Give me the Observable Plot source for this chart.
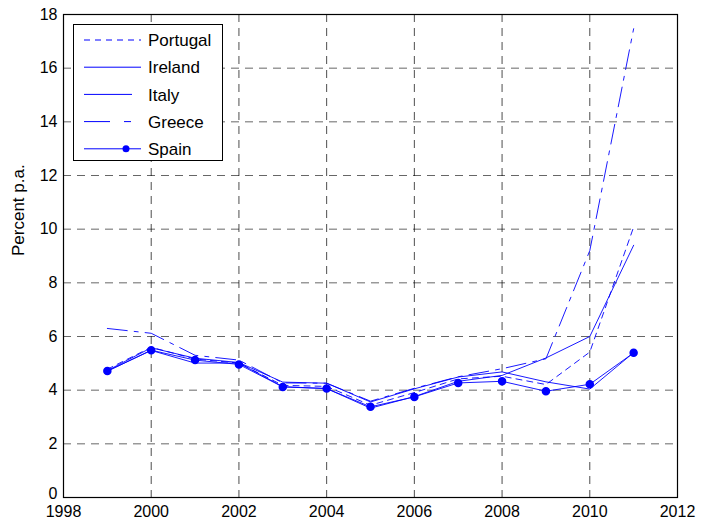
<!DOCTYPE html>
<html>
<head>
<meta charset="utf-8">
<script src="https://cdn.jsdelivr.net/npm/d3@7"></script>
<script src="https://cdn.jsdelivr.net/npm/@observablehq/plot@0.6"></script>
<style>
  body { margin: 0; background: white; }
  #wrap { position: relative; width: 702px; height: 523px; }
  #legend {
    position: absolute; left: 73px; top: 24px; width: 150px; height: 137px;
    border: 1px solid black; background: white; box-sizing: border-box;
    font-family: Arial, "Liberation Sans", sans-serif; font-size: 17px;
  }
</style>
</head>
<body>
<div id="wrap"></div>
<script>
const years = [1999, 2000, 2001, 2002, 2003, 2004, 2005, 2006, 2007, 2008, 2009, 2010, 2011];
const portugal = [4.78, 5.60, 5.16, 5.01, 4.18, 4.14, 3.44, 3.91, 4.42, 4.52, 4.21, 5.42, 10.08];
const ireland  = [4.71, 5.48, 5.01, 5.01, 4.13, 4.06, 3.33, 3.76, 4.33, 4.55, 5.20, 6.00, 9.40];
const italy    = [4.73, 5.58, 5.19, 5.03, 4.30, 4.26, 3.56, 4.05, 4.49, 4.68, 4.31, 4.04, 5.40];
const greece   = [6.30, 6.12, 5.30, 5.12, 4.27, 4.26, 3.59, 4.07, 4.50, 4.80, 5.17, 9.20, 17.47];
const spain    = [4.71, 5.49, 5.12, 4.96, 4.12, 4.06, 3.38, 3.75, 4.27, 4.33, 3.96, 4.22, 5.39];
const seriesNames = ["Portugal", "Ireland", "Italy", "Greece", "Spain"];
const xTicks = [1998, 2000, 2002, 2004, 2006, 2008, 2010, 2012];
const yTicks = [0, 2, 4, 6, 8, 10, 12, 14, 16, 18];

const seriesValues = [portugal, ireland, italy, greece, spain];
const dashes = {Portugal: "6,5", Ireland: null, Italy: null, Greece: "20,7,4,7", Spain: null};
const rows = [];
seriesNames.forEach((name, i) => years.forEach((yr, j) => rows.push({series: name, year: yr, value: seriesValues[i][j]})));
const blue = "#0000ff";

const lineMarks = seriesNames.map(name => Plot.line(rows.filter(d => d.series === name), {
  x: "year", y: "value", stroke: blue, strokeWidth: 0.9,
  strokeDasharray: dashes[name] || undefined
}));

const chart = Plot.plot({
  width: 702, height: 523,
  marginLeft: 63, marginRight: 25, marginTop: 14, marginBottom: 26,
  style: {fontFamily: "Arial, 'Liberation Sans', sans-serif", fontSize: "16px", background: "white", color: "black"},
  x: {domain: [1998, 2012], ticks: xTicks},
  y: {domain: [0, 18], ticks: yTicks},
  marks: [
    Plot.gridX(xTicks.slice(1, -1), {stroke: "#000", strokeOpacity: 0.7, strokeWidth: 1, strokeDasharray: "8,6"}),
    Plot.gridY(yTicks.slice(1, -1), {stroke: "#000", strokeOpacity: 0.6, strokeWidth: 1, strokeDasharray: "8,6"}),
    Plot.axisX(xTicks, {anchor: "bottom", tickSize: 0, tickPadding: 8, tickFormat: d => String(d), label: null, fontSize: 16}),
    Plot.axisY(yTicks.slice(1), {anchor: "left", tickSize: 0, tickPadding: 6, label: null, fontSize: 16}),
    Plot.axisY(yTicks.slice(0, 1), {anchor: "left", tickSize: 0, tickPadding: 6, label: null, fontSize: 16, dy: -4}),
    ...lineMarks,
    Plot.dot(rows.filter(d => d.series === "Spain"), {x: "year", y: "value", r: 3.5, fill: blue, stroke: blue}),
    Plot.frame({stroke: "black", strokeWidth: 1.2}),
    Plot.text(["Percent p.a."], {frameAnchor: "left", dx: -45, rotate: -90, fontSize: 17, text: d => d})
  ]
});
document.getElementById("wrap").appendChild(chart);

// legend
const legend = document.createElement("div");
legend.id = "legend";
const styles = {Portugal: {dash: "6,5"}, Ireland: {}, Italy: {}, Greece: {dash: "26,14,7,20"}, Spain: {dot: true}};
let html = '<svg width="150" height="137" style="position:absolute;left:0;top:0">';
seriesNames.forEach((name, i) => {
  const y = 15 + i * 27.2;
  const st = styles[name];
  html += `<line x1="10" x2="${name === "Italy" ? 58 : 67}" y1="${y}" y2="${y}" stroke="${blue}" stroke-width="1" ${st.dash ? `stroke-dasharray="${st.dash}"` : ""}/>`;
  if (st.dot) html += `<circle cx="52" cy="${y}" r="3.5" fill="${blue}"/>`;
  html += `<text x="74" y="${y}" dy="0.36em" font-family="Arial, 'Liberation Sans', sans-serif" font-size="17">${name}</text>`;
});
html += '</svg>';
legend.innerHTML = html;
document.getElementById("wrap").appendChild(legend);
</script>
</body>
</html>
